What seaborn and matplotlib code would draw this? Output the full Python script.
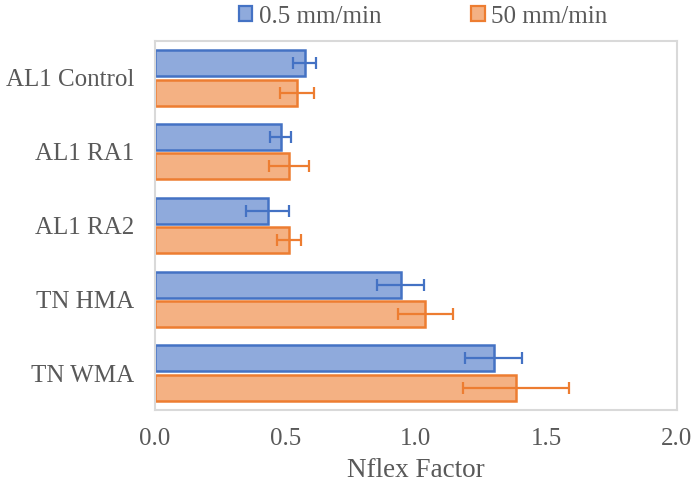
import matplotlib
matplotlib.use("Agg")
import matplotlib.pyplot as plt
import seaborn as sns
import pandas as pd

categories = ["AL1 Control", "AL1 RA1", "AL1 RA2", "TN HMA", "TN WMA"]
series = ["0.5 mm/min", "50 mm/min"]
slow_vals = [0.573, 0.481, 0.432, 0.941, 1.298]
fast_vals = [0.545, 0.512, 0.515, 1.036, 1.383]
slow_err = [0.045, 0.042, 0.082, 0.089, 0.109]
fast_err = [0.065, 0.077, 0.046, 0.104, 0.203]
xticks = [0.0, 0.5, 1.0, 1.5, 2.0]

fills = ["#8FAADC", "#F4B183"]
edges = ["#4472C4", "#ED7D31"]
text_color = "#595959"

df = pd.DataFrame({
    "category": categories * 2,
    "rate": [series[0]] * len(categories) + [series[1]] * len(categories),
    "value": slow_vals + fast_vals,
})

sns.set_style("white")
plt.rcParams["font.family"] = ["Liberation Serif", "DejaVu Serif"]

fig = plt.figure(figsize=(6.91, 4.87), dpi=100)
ax = fig.add_axes([0.2243, 0.1581, 0.7554, 0.7577])

sns.barplot(data=df, y="category", x="value", hue="rate", order=categories,
            hue_order=series, palette=fills, saturation=1, orient="h",
            width=0.8, gap=0.12, errorbar=None, ax=ax, legend=False)

for container, edge, errs in zip(ax.containers, edges, [slow_err, fast_err]):
    ys, xs = [], []
    for bar in container:
        bar.set_edgecolor(edge)
        bar.set_linewidth(1.8)
        ys.append(bar.get_y() + bar.get_height() / 2)
        xs.append(bar.get_width())
    ax.errorbar(xs, ys, xerr=errs, fmt="none", ecolor=edge, elinewidth=1.6,
                capsize=4.5, capthick=1.6)

# keep the categorical band fixed after the error bars are added
ax.set_ylim(len(categories) - 0.5, -0.5)
ax.set_xlim(0, 2.0)
ax.set_xticks(xticks)
ax.set_xticklabels([f"{t:.1f}" for t in xticks])
ax.set_xlabel("Nflex Factor", fontsize=19.5, color=text_color, labelpad=6)
ax.set_ylabel("")
ax.tick_params(axis="both", length=0, labelsize=18, colors=text_color)
ax.tick_params(axis="x", pad=13)
ax.tick_params(axis="y", pad=15)
for s in ax.spines.values():
    s.set_visible(True)
    s.set_color("#D9D9D9")
    s.set_linewidth(1.5)

handles = [plt.Rectangle((0, 0), 1, 1, facecolor=f, edgecolor=e, linewidth=1.6)
           for f, e in zip(fills, edges)]
fig.legend(handles, series, loc="center", bbox_to_anchor=(0.612, 0.966), ncol=2,
           frameon=False, fontsize=18, handlelength=0.55, handleheight=0.55,
           handletextpad=0.25, columnspacing=3.6, labelcolor=text_color)

fig.savefig("out.png", dpi=100)
